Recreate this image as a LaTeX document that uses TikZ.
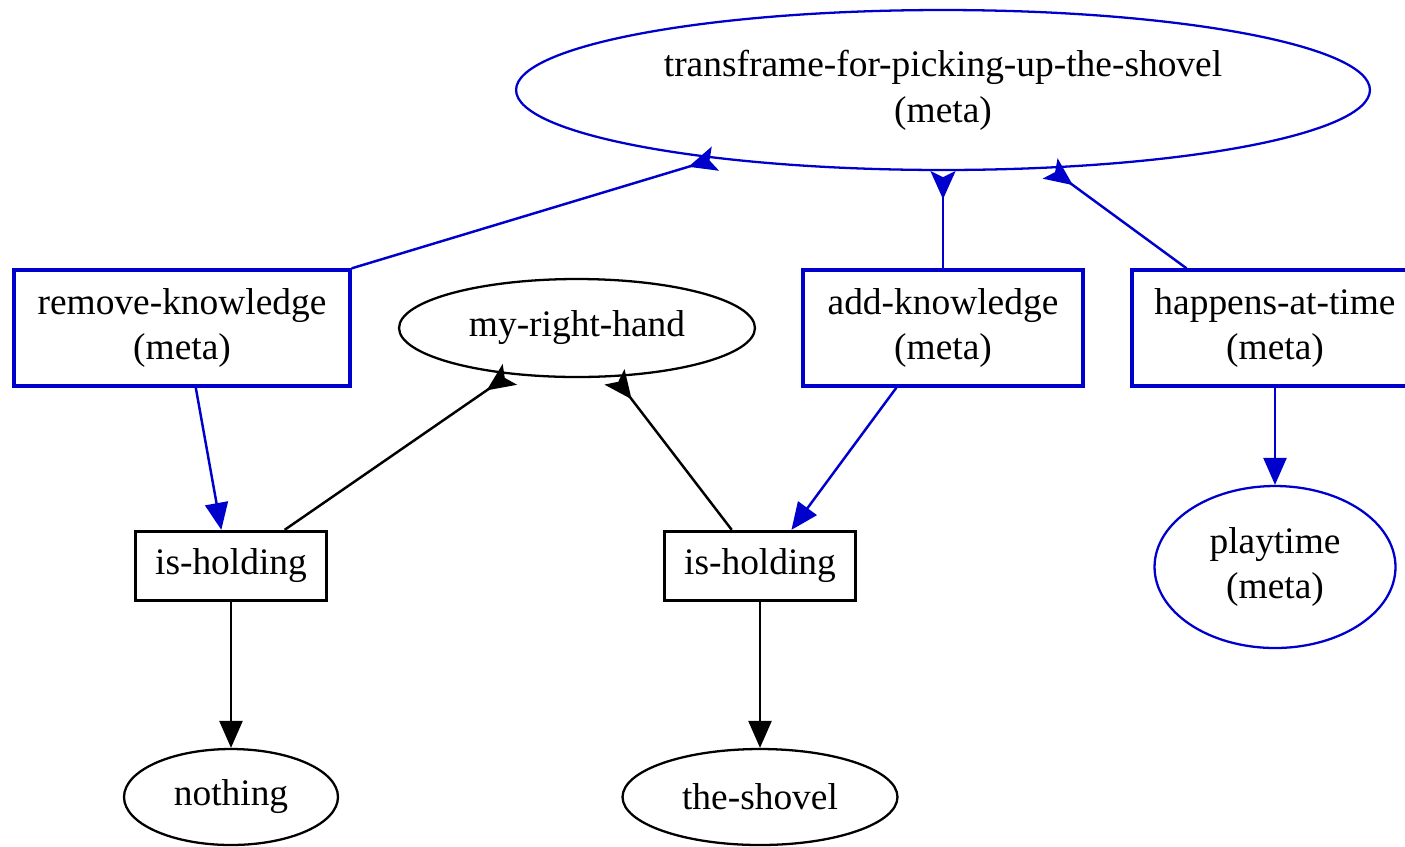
\documentclass[tikz,border=0pt]{standalone}
\usepackage{fontspec}
\setmainfont{Liberation Serif}
\usetikzlibrary{arrows.meta,shapes.geometric}
\definecolor{gvblue}{RGB}{0,0,205}
\tikzset{
  lbl/.style={font=\fontsize{21.3}{26}\selectfont, align=center, inner sep=0pt},
  frame/.style={lbl, draw, rectangle, line width=1.9pt},
  oval/.style={lbl, draw, ellipse, line width=1.3pt},
  meta/.style={draw=gvblue},
  tip/.style={-{Triangle[length=0.54cm,width=0.46cm]}},
  foot/.style={-{Stealth[reversed,length=0.56cm,width=0.5cm,inset=0.12cm]}},
}
\begin{document}
\begin{tikzpicture}[x=0.02cm, y=-0.02cm, line width=1.4pt]
        \useasboundingbox (0,0) rectangle (1405,846);

        \node[oval, meta, minimum width=17.08cm, minimum height=3.2cm] (top) at (943,90) {transframe-for-picking-up-the-shovel\\(meta)};

        \node[frame, meta, minimum width=6.72cm, minimum height=2.32cm] (rk) at (182,328) {remove-knowledge\\(meta)};
        \node[oval, minimum width=7.12cm, minimum height=1.96cm] (hand) at (577,328) {my-right-hand};
        \node[frame, meta, minimum width=5.6cm, minimum height=2.32cm] (ak) at (943,328) {add-knowledge\\(meta)};
        \node[frame, meta, minimum width=5.72cm, minimum height=2.32cm] (ht) at (1275,328) {happens-at-time\\(meta)};

        \node[frame, minimum width=3.82cm, minimum height=1.38cm] (hold1) at (231,566) {is-holding};
        \node[frame, minimum width=3.82cm, minimum height=1.38cm] (hold2) at (760,566) {is-holding};
        \node[oval, meta, minimum width=4.82cm, minimum height=3.24cm] (play) at (1275,567) {playtime\\(meta)};

        \node[oval, minimum width=4.28cm, minimum height=1.92cm] (nothing) at (231,797) {nothing};
        \node[oval, minimum width=5.5cm, minimum height=1.92cm] (shovel) at (760,797) {the-shovel};

        \path [foot, gvblue] (rk.north east) edge (top);
        \path [foot, gvblue] (ak) edge (top);
        \path [foot, gvblue] (ht.146) edge (top);

        \path [foot] (hold1.34) edge (hand);
        \path [foot] (hold2.128) edge (hand);

        \path [tip, gvblue] (rk.-77) edge (hold1.105);
        \path [tip, gvblue] (ak.-128) edge (hold2.49);
        \path [tip, gvblue] (ht) edge (play);

        \path [tip] (hold1) edge (nothing);
        \path [tip] (hold2) edge (shovel);
    \end{tikzpicture}
\end{document}
